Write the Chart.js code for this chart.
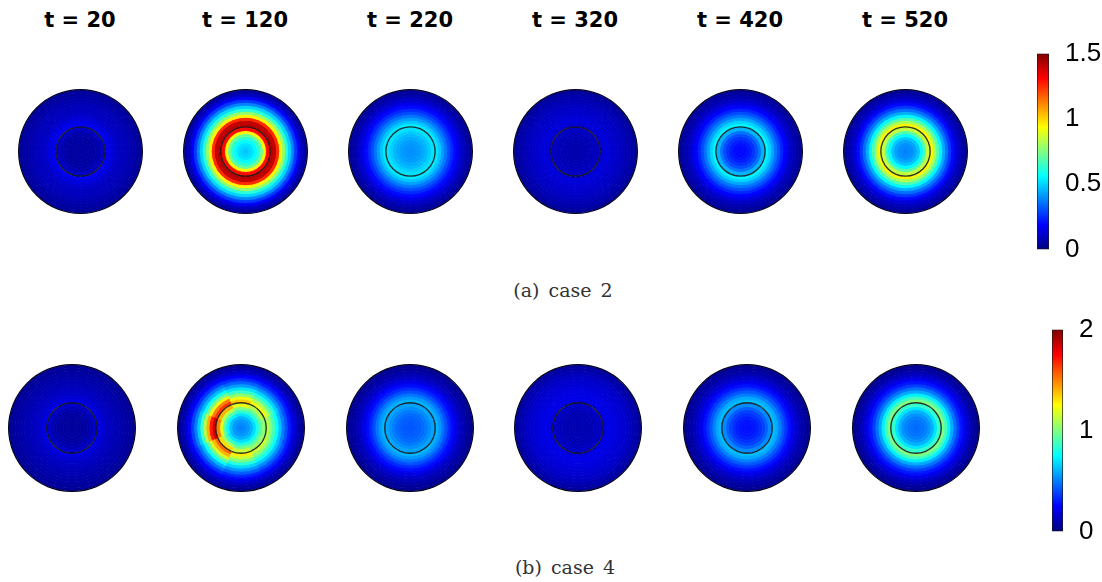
<!DOCTYPE html>
<html>
<head>
<meta charset="utf-8">
<script src="https://cdn.jsdelivr.net/npm/chart.js@4.4.1/dist/chart.umd.min.js"></script>
<style>
  html, body { margin: 0; padding: 0; background: #fff; }
  #page { position: relative; width: 1102px; height: 582px; overflow: hidden; background: #fff; }
  canvas { position: absolute; }
  .title { position: absolute; top: 8px; width: 160px; text-align: center; font: bold 21px "DejaVu Sans"; color: #000; white-space: nowrap; }
  .caption { position: absolute; width: 240px; text-align: center; font: 19px "DejaVu Serif"; color: #333; word-spacing: 3px; white-space: nowrap; }
</style>
</head>
<body>
<div id="page"></div>
<script>
// panel titles and captions
const titles = ['t = 20', 't = 120', 't = 220', 't = 320', 't = 420', 't = 520'];
const captions = ['(a) case 2', '(b) case 4'];

// colorbar ranges and tick labels
const case2Max = 1.5;
const case4Max = 2;
const case2Ticks = [0, 0.5, 1, 1.5];
const case4Ticks = [0, 1, 2];

// radial profiles, centre -> edge (20 rings, contour sits after the 8th ring)
const case2_t20  = [0.05, 0.05, 0.05, 0.05, 0.05, 0.06, 0.07, 0.10, 0.17, 0.15, 0.13, 0.11, 0.10, 0.09, 0.09, 0.08, 0.07, 0.06, 0.05, 0.04];
const case2_t120 = [0.48, 0.50, 0.52, 0.56, 0.62, 0.72, 0.95, 1.30, 1.42, 1.40, 1.25, 0.95, 0.78, 0.62, 0.50, 0.38, 0.27, 0.17, 0.10, 0.05];
const case2_t220 = [0.40, 0.40, 0.41, 0.42, 0.44, 0.46, 0.49, 0.52, 0.53, 0.48, 0.42, 0.36, 0.30, 0.25, 0.20, 0.16, 0.12, 0.09, 0.06, 0.04];
const case2_t320 = [0.07, 0.07, 0.07, 0.07, 0.08, 0.08, 0.09, 0.10, 0.12, 0.13, 0.13, 0.12, 0.11, 0.11, 0.10, 0.09, 0.08, 0.07, 0.06, 0.04];
const case2_t420 = [0.20, 0.20, 0.21, 0.23, 0.26, 0.30, 0.36, 0.45, 0.55, 0.50, 0.43, 0.36, 0.30, 0.24, 0.19, 0.15, 0.11, 0.08, 0.06, 0.04];
const case2_t520 = [0.38, 0.39, 0.40, 0.43, 0.48, 0.56, 0.68, 0.85, 0.95, 0.82, 0.68, 0.55, 0.44, 0.35, 0.27, 0.20, 0.14, 0.10, 0.07, 0.04];

const case4_t20  = [0.06, 0.06, 0.06, 0.06, 0.07, 0.08, 0.10, 0.14, 0.20, 0.17, 0.15, 0.13, 0.12, 0.11, 0.10, 0.09, 0.08, 0.07, 0.06, 0.05];
// t = 120 is not symmetric: eight sectors, clockwise from the top
const case4_t120_n  = [0.50, 0.52, 0.55, 0.60, 0.70, 0.85, 1.00, 1.20, 1.35, 1.22, 1.02, 0.86, 0.70, 0.56, 0.44, 0.33, 0.24, 0.16, 0.10, 0.05];
const case4_t120_ne = [0.50, 0.52, 0.55, 0.60, 0.69, 0.82, 0.95, 1.10, 1.22, 1.10, 0.94, 0.80, 0.66, 0.53, 0.42, 0.31, 0.23, 0.15, 0.09, 0.05];
const case4_t120_e  = [0.50, 0.52, 0.55, 0.60, 0.68, 0.80, 0.92, 1.02, 1.10, 1.00, 0.88, 0.75, 0.62, 0.50, 0.40, 0.30, 0.22, 0.15, 0.09, 0.05];
const case4_t120_se = [0.50, 0.52, 0.55, 0.60, 0.68, 0.80, 0.93, 1.05, 1.15, 1.04, 0.90, 0.77, 0.64, 0.52, 0.41, 0.31, 0.22, 0.15, 0.09, 0.05];
const case4_t120_s  = [0.50, 0.52, 0.55, 0.60, 0.69, 0.82, 0.97, 1.14, 1.28, 1.15, 0.98, 0.82, 0.67, 0.54, 0.43, 0.32, 0.23, 0.16, 0.10, 0.05];
const case4_t120_sw = [0.50, 0.52, 0.55, 0.61, 0.71, 0.88, 1.08, 1.32, 1.55, 1.40, 1.18, 0.95, 0.77, 0.60, 0.47, 0.35, 0.25, 0.16, 0.10, 0.05];
const case4_t120_w  = [0.50, 0.52, 0.56, 0.63, 0.75, 0.95, 1.20, 1.50, 1.85, 1.70, 1.40, 1.10, 0.85, 0.65, 0.50, 0.37, 0.26, 0.17, 0.10, 0.05];
const case4_t120_nw = [0.50, 0.52, 0.55, 0.62, 0.73, 0.92, 1.12, 1.40, 1.65, 1.50, 1.22, 0.98, 0.78, 0.61, 0.48, 0.35, 0.25, 0.16, 0.10, 0.05];
const case4_t220 = [0.42, 0.42, 0.43, 0.44, 0.46, 0.49, 0.53, 0.57, 0.60, 0.55, 0.48, 0.40, 0.33, 0.27, 0.21, 0.16, 0.12, 0.09, 0.06, 0.04];
const case4_t320 = [0.10, 0.10, 0.10, 0.10, 0.10, 0.11, 0.12, 0.14, 0.18, 0.20, 0.20, 0.19, 0.18, 0.17, 0.16, 0.15, 0.13, 0.11, 0.09, 0.06];
const case4_t420 = [0.28, 0.28, 0.29, 0.31, 0.34, 0.38, 0.44, 0.52, 0.62, 0.58, 0.50, 0.42, 0.35, 0.28, 0.22, 0.17, 0.13, 0.09, 0.07, 0.04];
const case4_t520 = [0.46, 0.47, 0.48, 0.50, 0.54, 0.60, 0.70, 0.85, 1.00, 0.88, 0.72, 0.58, 0.47, 0.37, 0.29, 0.22, 0.16, 0.11, 0.07, 0.04];

const case2Panels = [[case2_t20], [case2_t120], [case2_t220], [case2_t320], [case2_t420], [case2_t520]];
const case4Panels = [
  [case4_t20],
  [case4_t120_n, case4_t120_ne, case4_t120_e, case4_t120_se, case4_t120_s, case4_t120_sw, case4_t120_w, case4_t120_nw],
  [case4_t220], [case4_t320], [case4_t420], [case4_t520],
];

const page = document.getElementById('page');
const CONTOUR_RING = 8;

function jet(v, max) {
  const t = Math.min(Math.max(v / max, 0), 1);
  const c = (x) => Math.round(255 * Math.min(Math.max(1.5 - Math.abs(4 * t - x), 0), 1));
  return 'rgb(' + c(3) + ',' + c(2) + ',' + c(1) + ')';
}

function addCanvas(left, top, w, h) {
  const canvas = document.createElement('canvas');
  canvas.width = w;
  canvas.height = h;
  canvas.style.left = left + 'px';
  canvas.style.top = top + 'px';
  page.appendChild(canvas);
  return canvas;
}

function makeDisc(panel, max, cx, cy, size) {
  const canvas = addCanvas(cx - size / 2, cy - size / 2, size, size);
  const ones = panel.map(() => 1);
  const datasets = [];
  // dark rim around the disc (dataset 0 is the outer ring)
  datasets.push({ data: ones, backgroundColor: '#00001e', borderWidth: 0, weight: 0.4, order: -1 });
  for (let i = panel[0].length - 1; i >= 0; i--) {
    const colors = panel.map((p) => jet(p[i], max));
    datasets.push({ data: ones, backgroundColor: colors, borderColor: colors, borderWidth: 1, weight: 1 });
    if (i === CONTOUR_RING) {
      datasets.push({ data: ones, backgroundColor: 'rgba(0,0,0,0.8)', borderWidth: 0, weight: 0.45, order: -1 });
    }
  }
  new Chart(canvas, {
    type: 'doughnut',
    data: { datasets: datasets },
    options: {
      responsive: false,
      animation: false,
      events: [],
      cutout: 0,
      rotation: panel.length > 1 ? -180 / panel.length : 0,
      layout: { padding: 0 },
      plugins: { legend: { display: false }, tooltip: { enabled: false } },
    },
  });
}

function makeColorbar(max, ticks, left, areaTop, areaBottom, barWidth) {
  const pad = 20;
  const width = 1102 - left;
  const canvas = addCanvas(left, areaTop - pad, width, areaBottom - areaTop + 2 * pad);
  const stops = [0, 0.125, 0.375, 0.625, 0.875, 1];
  new Chart(canvas, {
    type: 'bar',
    data: {
      labels: [''],
      datasets: [
        {
          data: [max],
          backgroundColor: (c) => {
            const a = c.chart.chartArea;
            if (!a) return 'rgba(0,0,0,0)';
            const g = c.chart.ctx.createLinearGradient(0, a.bottom, 0, a.top);
            stops.forEach((s) => g.addColorStop(s, jet(s * max, max)));
            return g;
          },
          borderColor: '#1a1a1a',
          borderWidth: 1,
          borderSkipped: false,
          barPercentage: 1,
          categoryPercentage: 1,
        },
      ],
    },
    options: {
      responsive: false,
      animation: false,
      events: [],
      layout: { padding: { top: pad, bottom: pad, left: 0, right: 0 } },
      plugins: { legend: { display: false }, tooltip: { enabled: false } },
      scales: {
        x: { display: false },
        y: {
          position: 'right',
          min: 0,
          max: max,
          afterBuildTicks: (s) => { s.ticks = ticks.map((v) => ({ value: v })); },
          afterFit: (s) => { s.width = width - barWidth; },
          grid: { display: false },
          border: { display: false },
          ticks: {
            color: '#000',
            padding: 8,
            font: { family: '"Liberation Sans", Arial, sans-serif', size: 26 },
            callback: (v) => String(v),
          },
        },
      },
    },
  });
}

function addText(cls, text, left, top) {
  const div = document.createElement('div');
  div.className = cls;
  div.textContent = text;
  div.style.left = left + 'px';
  div.style.top = top + 'px';
  page.appendChild(div);
}

const topX = [80, 245, 410, 575, 740, 905];
const bottomX = [72, 241, 410, 578, 747, 916];

titles.forEach((t, i) => addText('title', t, topX[i] - 80, 8));
case2Panels.forEach((p, i) => makeDisc(p, case2Max, topX[i], 151, 125));
case4Panels.forEach((p, i) => makeDisc(p, case4Max, bottomX[i], 428, 128));

makeColorbar(case2Max, case2Ticks, 1037, 50, 253, 12);
makeColorbar(case4Max, case4Ticks, 1052, 326, 535, 11);

addText('caption', captions[0], 563 - 120, 279);
addText('caption', captions[1], 565 - 120, 556);
</script>
</body>
</html>
